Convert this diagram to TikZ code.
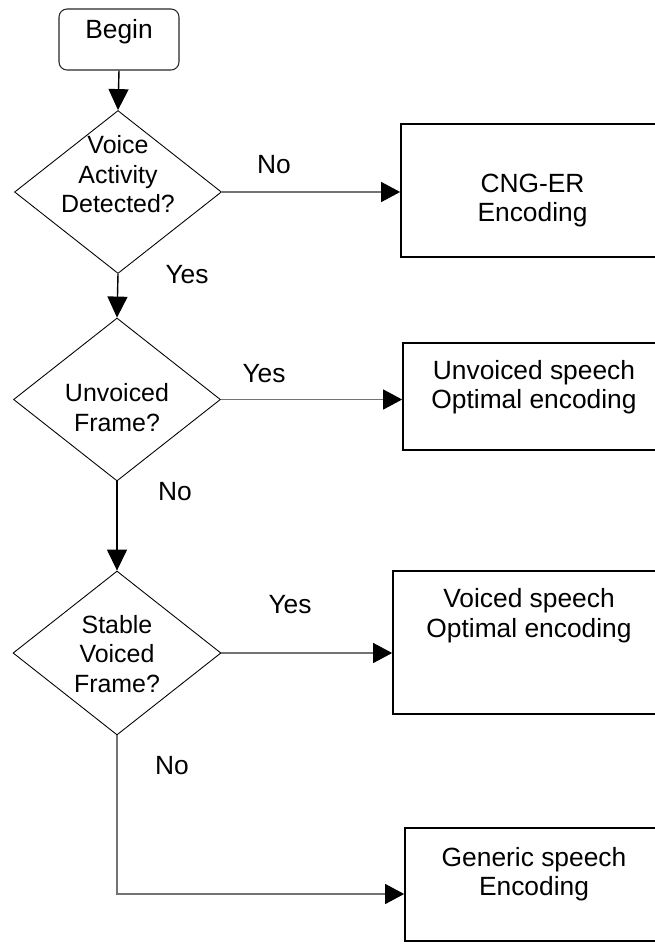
\documentclass[tikz,border=0pt]{standalone}
\usepackage{fontspec}
\setmainfont{Liberation Sans}
\usetikzlibrary{shapes.geometric,arrows.meta}

\tikzset{
  startbox/.style={draw=black!85,line width=0.6pt,rounded corners=0.16cm,
    minimum width=2.4cm,minimum height=1.22cm,inner sep=0pt,align=center,font=\fontsize{15}{17}\selectfont},
  decision/.style={diamond,draw,line width=0.5pt,inner xsep=-15pt,inner ysep=-10pt,align=center},
  process/.style={draw,line width=1pt,inner sep=0pt,align=center,font=\fontsize{15}{17}\selectfont},
  flow/.style={line width=0.8pt,-{Triangle[length=0.42cm,width=0.4cm]}},
  branch/.style={draw=black!55,line width=0.6pt,-{Triangle[length=0.38cm,width=0.4cm,color=black]}},
  answer/.style={inner sep=0pt,font=\fontsize{15}{17}\selectfont}
}

\begin{document}
\begin{tikzpicture}[x=0.02cm,y=-0.02cm,font=\fontsize{14.2}{17}\selectfont]
\useasboundingbox (0,0) rectangle (655,944);
\clip (0,0) rectangle (655,944);

% left column
\node[startbox,text height=12pt,text depth=12.6pt] (begin) at (119,39.5) {Begin};
\node[decision,minimum width=4.14cm,minimum height=3.26cm,text height=36pt,text depth=12.2pt] (vad) at (118,192) {Voice\\Activity\\Detected?};
\node[decision,minimum width=4.14cm,minimum height=3.26cm,text height=48pt,text depth=11.2pt] (unv) at (117,399.5) {Unvoiced\\Frame?};
\node[decision,minimum width=4.16cm,minimum height=3.28cm,text height=57pt,text depth=11.7pt] (svf) at (117,653) {Stable\\Voiced\\Frame?};

% right column
\node[process,minimum width=5.26cm,minimum height=2.66cm,text height=47pt,text depth=11.3pt] (cng) at (532.5,190.5) {CNG-ER\\Encoding};
\node[process,minimum width=5.24cm,minimum height=2.14cm,text height=26pt,text depth=11.8pt] (uvb) at (534,396.5) {Unvoiced speech\\Optimal encoding};
\node[process,minimum width=5.44cm,minimum height=2.86cm,text height=12pt,text depth=18.2pt] (vb) at (529,642.5) {Voiced speech\\Optimal encoding};
\node[process,minimum width=5.16cm,minimum height=2.26cm,text height=25pt,text depth=12pt] (gs) at (534,884.5) {Generic speech\\Encoding};

% answers
\node[answer] (no1) at (274,165) {No};
\node[answer] (yes1) at (187,275) {Yes};
\node[answer] (yes2) at (264,374) {Yes};
\node[answer] (no2) at (175,492) {No};
\node[answer] (yes3) at (290,605) {Yes};
\node[answer] (no3) at (172,766) {No};

% connectors
\draw[flow] (begin.south) -- (vad.north);
\draw[flow] (vad.south) -- (unv.north);
\draw[flow] (unv.south) -- (svf.north);
\draw[branch] (vad.east) -- (vad.east -| cng.west);
\draw[branch] (unv.east) -- (unv.east -| uvb.west);
\draw[branch] (svf.east) -- (svf.east -| vb.west);
\draw[branch] (svf.south) |- ([yshift=-0.19cm]gs.west);
\end{tikzpicture}
\end{document}
